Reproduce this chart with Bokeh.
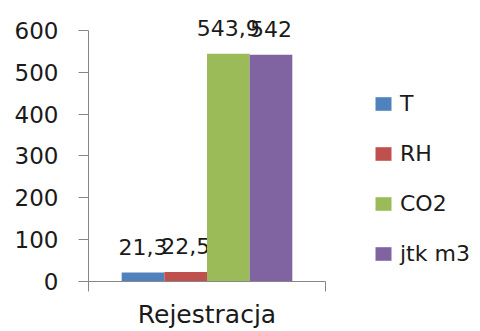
from bokeh.plotting import figure
from bokeh.models import (ColumnDataSource, Range1d, LinearAxis, FixedTicker, Legend, LegendItem)
from bokeh.transform import dodge
from bokeh.embed import file_html
from bokeh.resources import INLINE

categories = ["Rejestracja"]
series = ["T", "RH", "CO2", "jtk m3"]
values = [21.3, 22.5, 543.9, 542]
colors = ["#4F81BD", "#C0504D", "#9BBB59", "#8064A2"]
y_ticks = [0, 100, 200, 300, 400, 500, 600]

FONT = "DejaVu Sans"
AXIS_COLOR = "#868686"
TEXT_COLOR = "#1a1a1a"

n = len(categories)
centers = [i + 0.5 for i in range(n)]
y_max = y_ticks[-1]

# frame spans the full right/top of the canvas so labels and legend are not clipped;
# axes are bounded to the data area
p = figure(width=480, height=331, x_range=Range1d(0, n * 392 / 237),
           y_range=Range1d(0, y_max * 282 / 252), output_backend="svg", toolbar_location=None,
           x_axis_location=None, y_axis_location=None,
           min_border_left=88, min_border_right=0, min_border_top=0, min_border_bottom=47)
p.outline_line_color = None
p.grid.visible = False
p.background_fill_color = "white"

# y axis
yax = LinearAxis(ticker=FixedTicker(ticks=y_ticks), bounds=(0, y_max))
yax.axis_line_color = AXIS_COLOR
yax.major_tick_line_color = AXIS_COLOR
yax.major_tick_out = 10
yax.major_tick_in = 0
yax.minor_tick_line_color = None
yax.major_label_standoff = 20
yax.major_label_text_font = FONT
yax.major_label_text_font_size = "23px"
yax.major_label_text_color = TEXT_COLOR
p.add_layout(yax, "left")

# x axis: category labels at centres, boundary ticks as minor ticks
xax = LinearAxis(ticker=FixedTicker(ticks=centers, minor_ticks=list(range(n + 1))),
                 bounds=(0, n),
                 major_label_overrides={c: name for c, name in zip(centers, categories)})
xax.axis_line_color = AXIS_COLOR
xax.major_tick_line_color = None
xax.major_tick_out = 0
xax.major_tick_in = 0
xax.minor_tick_line_color = AXIS_COLOR
xax.minor_tick_out = 10
xax.minor_tick_in = 0
xax.major_label_standoff = 8
xax.major_label_text_font = FONT
xax.major_label_text_font_size = "25px"
xax.major_label_text_color = TEXT_COLOR
p.add_layout(xax, "below")

offsets = [-0.27, -0.09, 0.09, 0.27]
items = []
for k, (s, c, off) in enumerate(zip(series, colors, offsets)):
    vals = [values[k]]
    src = ColumnDataSource(dict(x=centers, val=vals,
                                lab=[("%g" % v).replace(".", ",") for v in vals]))
    r = p.vbar(x=dodge("x", off), top="val", width=0.18, source=src,
               fill_color=c, line_color=None)
    p.text(x=dodge("x", off), y="val", text="lab", source=src,
           text_align="center", text_baseline="bottom", y_offset=-18,
           text_font_size="22px", text_font={"value": FONT}, text_color=TEXT_COLOR)
    items.append(LegendItem(label=s, renderers=[r]))

legend = Legend(items=items, location=(285, 15), orientation="vertical")
legend.glyph_width = 20
legend.glyph_height = 17
legend.label_height = 17
legend.spacing = 25
legend.label_standoff = 7
legend.padding = 0
legend.margin = 0
legend.border_line_color = None
legend.background_fill_alpha = 0
legend.label_text_font = FONT
legend.label_text_font_size = "22px"
legend.label_text_color = TEXT_COLOR
legend.label_text_baseline = "middle"
p.add_layout(legend, "center")

open("out.html", "w").write(file_html(p, INLINE))
